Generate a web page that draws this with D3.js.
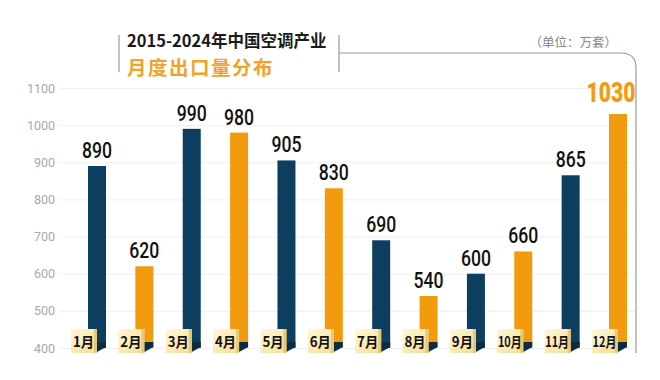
<!DOCTYPE html>
<html>
<head>
<meta charset="utf-8">
<script src="https://cdn.jsdelivr.net/npm/d3@7/dist/d3.min.js"></script>
<style>
html,body{margin:0;padding:0;background:#fff;}
svg{display:block;}
</style>
</head>
<body>
<svg id="chart" width="660" height="380"></svg>
<script>
const months = ["1月","2月","3月","4月","5月","6月","7月","8月","9月","10月","11月","12月"];
const values = [890, 620, 990, 980, 905, 830, 690, 540, 600, 660, 865, 1030];
const barColors = ["navy","orange","navy","orange","navy","orange","navy","orange","navy","orange","navy","orange"];
const yTicks = [400, 500, 600, 700, 800, 900, 1000, 1100];
const titleLine1 = "2015-2024年中国空调产业";
const titleLine2 = "月度出口量分布";
const unitText = "（单位：万套）";

const palette = {navy: "#0d3d5f", orange: "#f39b0f"};
const svg = d3.select("#chart");

const x = d3.scalePoint().domain(months).range([97, 618]);
const y = d3.scaleLinear().domain([400, 1100]).range([348, 88]);
const barW = 18;

const defs = svg.append("defs");
const g1 = defs.append("linearGradient").attr("id","boxGrad").attr("x1","0").attr("y1","0").attr("x2","1").attr("y2","1");
g1.append("stop").attr("offset","0").attr("stop-color","#fff8d8");
g1.append("stop").attr("offset","1").attr("stop-color","#f6dc95");

// Grid + y axis
const yAxis = d3.axisLeft(y).tickValues(yTicks).tickSize(-575).tickFormat(d3.format("d"));
const ga = svg.append("g").attr("transform","translate(60,0)").call(yAxis);
ga.select(".domain").remove();
ga.selectAll(".tick line").attr("stroke","#efefef").attr("stroke-width",1);
ga.selectAll(".tick text").attr("x",-5).attr("fill","#a8a8a8")
  .style("font-family","Roboto, 'Noto Sans', sans-serif").style("font-size","12.5px");

// Frame lines
svg.append("line").attr("x1",119).attr("x2",119).attr("y1",35).attr("y2",72).attr("stroke","#999").attr("stroke-width",1.2);
svg.append("path").attr("d","M339,35 L339,72 M339,53 L621,53 Q636,53 636,68 L636,353")
  .attr("fill","none").attr("stroke","#999").attr("stroke-width",1.2);

// Titles
svg.append("text").attr("x",127).attr("y",47).text(titleLine1)
  .style("font-family","'Noto Sans CJK SC', sans-serif").style("font-weight","700").style("font-size","16.5px").attr("fill","#1a1a1a");
svg.append("text").attr("x",127).attr("y",74.5).text(titleLine2)
  .style("font-family","'Noto Sans CJK SC', sans-serif").style("font-weight","700").style("font-size","19.5px")
  .style("letter-spacing","1.5px").attr("fill","#f2a22a");
svg.append("text").attr("x",617).attr("y",47).attr("text-anchor","end").text(unitText)
  .style("font-family","'Noto Sans CJK SC', sans-serif").style("font-size","12.5px").attr("fill","#888");

// Bars
const bars = svg.append("g");
months.forEach((m, i) => {
  const cx = x(m), v = values[i];
  const xl = cx - barW/2, xr = cx + barW/2;
  const top = y(v), base = y(400);
  bars.append("rect").attr("x", xl).attr("y", top).attr("width", barW).attr("height", base - top)
    .attr("fill", palette[barColors[i]]);
  bars.append("polygon")
    .attr("points", `${xl},${base-6} ${xr},${base-6} ${xr},${base-1} ${cx},${base+4} ${xl},${base+4}`)
    .attr("fill", "#0a2c45");
  // value label
  const big = i === 11;
  svg.append("text")
    .attr("transform", `translate(${big ? cx - 7 : cx},${top - (big ? 12 : 8)}) scale(${big ? 0.78 : 0.8},1)`)
    .attr("text-anchor","middle").text(v)
    .style("font-family","Roboto, 'Noto Sans', sans-serif")
    .style("font-weight", big ? "900" : "500")
    .style("font-size", big ? "27px" : "22px")
    .attr("fill", big ? "#f39b0f" : "#111");
  // month box
  const bx = cx - 26, by = 329;
  svg.append("rect").attr("x", bx).attr("y", by).attr("width", 26).attr("height", 24).attr("fill","url(#boxGrad)");
  svg.append("rect").attr("x", bx + 23).attr("y", by).attr("width", 3).attr("height", 24).attr("fill","#ecc873");
  svg.append("text")
    .attr("transform", `translate(${bx + 12.5},${by + 17.5}) scale(${m.length > 2 ? 0.78 : 0.95},1)`)
    .attr("text-anchor","middle").text(m)
    .style("font-family","'Noto Sans CJK SC', sans-serif").style("font-weight","700").style("font-size","14px")
    .attr("fill","#111");
});
</script>
</body>
</html>
